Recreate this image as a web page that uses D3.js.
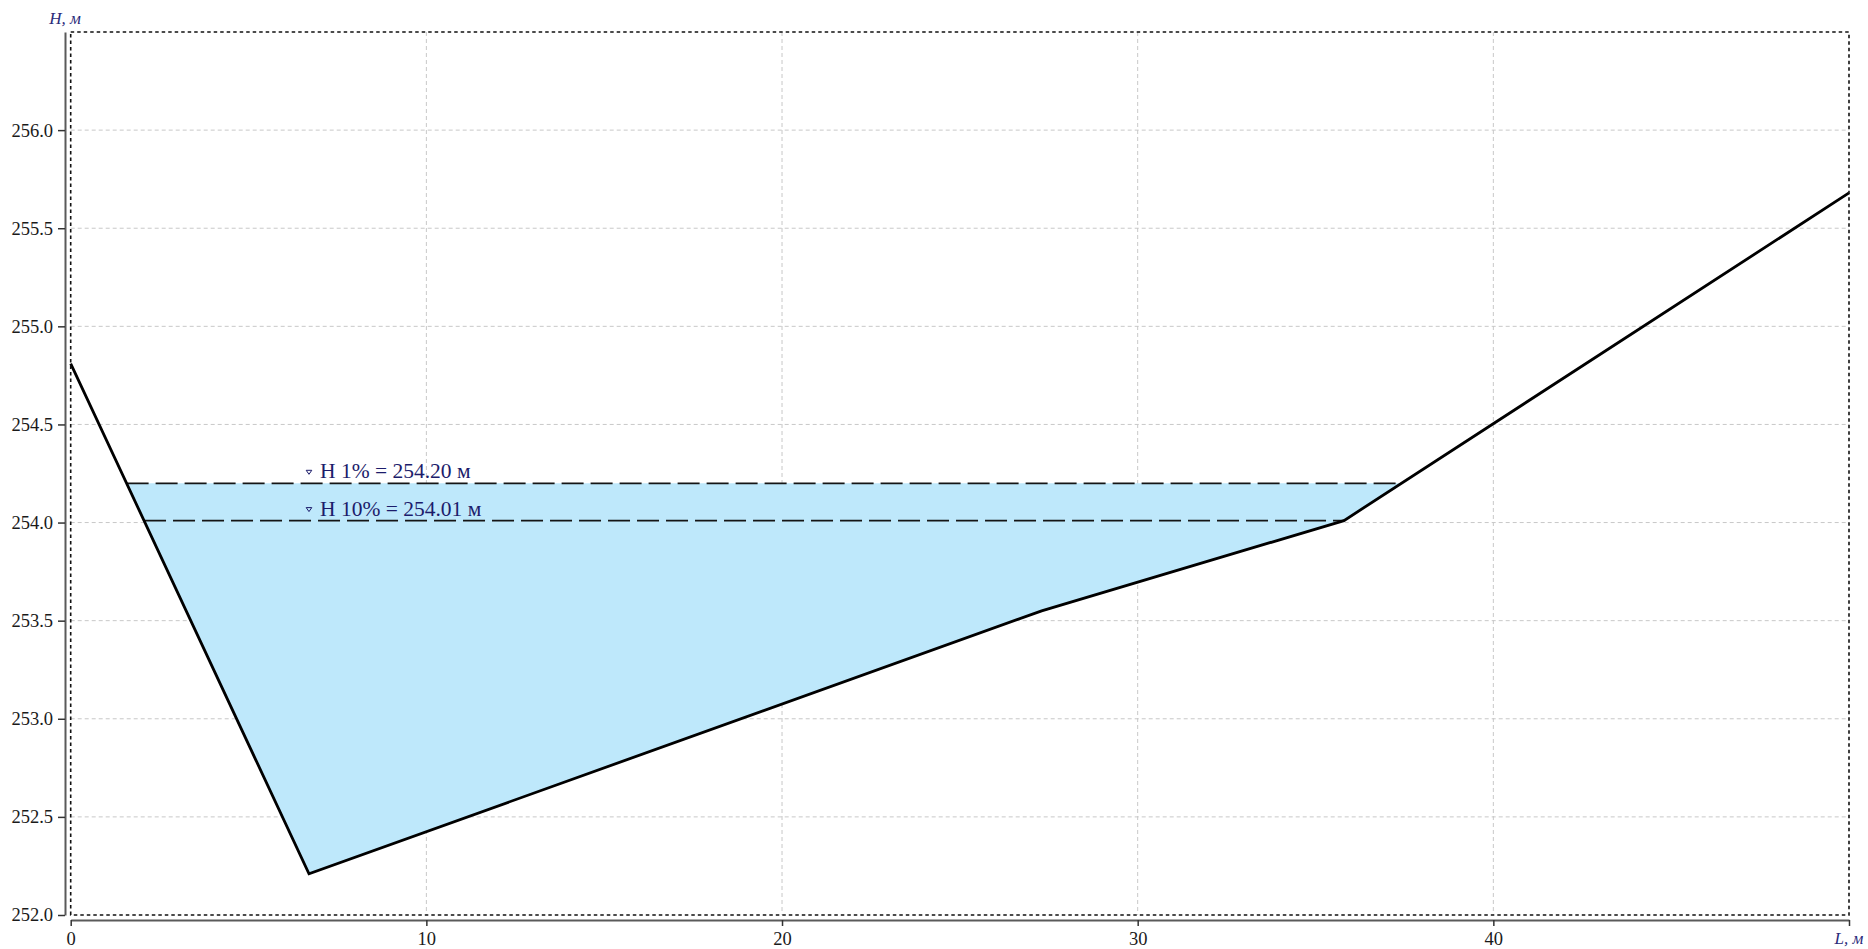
<!DOCTYPE html>
<html><head><meta charset="utf-8">
<script src="https://cdn.jsdelivr.net/npm/d3@7"></script>
<style>html,body{margin:0;padding:0;background:#fff;}svg{display:block;}</style>
</head><body>
<svg id="chart" width="1868" height="949"></svg>
<script>
// ---- data ----
const profileL = [0, 6.7, 27.3, 35.8, 50];
const profileH = [254.81, 252.21, 253.55, 254.01, 255.68];
const waterLevels = [254.20, 254.01];
const waterLabels = ["H 1% = 254.20 м", "H 10% = 254.01 м"];
const xTicks = [0, 10, 20, 30, 40, 50];
const yTicks = [252.0, 252.5, 253.0, 253.5, 254.0, 254.5, 255.0, 255.5, 256.0];
const xTitle = "L, м";
const yTitle = "H, м";

(function () {
const pL = 70.7, pR = 1849, pT = 32, pB = 915;
const x = d3.scaleLinear().domain([0, 50]).range([pL, pR]);
const y = d3.scaleLinear().domain([252, 256.5]).range([pB, pT]);
const svg = d3.select("#chart");
const serif = "'Liberation Serif','Times New Roman',serif";
const pts = profileL.map((l, i) => [l, profileH[i]]);

// gridlines
const grid = svg.append("g");
grid.selectAll("line.v").data(xTicks.filter(t => t > 0 && t < 50)).join("line").attr("class", "v")
  .attr("x1", d => x(d)).attr("x2", d => x(d)).attr("y1", pT).attr("y2", pB)
  .attr("stroke", "#c8c8c8").attr("stroke-width", 1).attr("stroke-dasharray", "4,3");
grid.selectAll("line.h").data(yTicks.filter(t => t > 252)).join("line").attr("class", "h")
  .attr("x1", pL).attr("x2", pR).attr("y1", d => y(d)).attr("y2", d => y(d))
  .attr("stroke", "#c8c8c8").attr("stroke-width", 1).attr("stroke-dasharray", "4,3");

// intersections of a level with the profile
function crossings(level) {
  const xs = [];
  for (let i = 0; i < pts.length - 1; i++) {
    const [l0, h0] = pts[i], [l1, h1] = pts[i + 1];
    if ((h0 - level) * (h1 - level) <= 0 && h0 !== h1) {
      const t = (level - h0) / (h1 - h0);
      if (t >= 0 && t <= 1) xs.push(l0 + t * (l1 - l0));
    }
  }
  return [d3.min(xs), d3.max(xs)];
}

// water fill (highest level)
const lvTop = d3.max(waterLevels);
const [a1, b1] = crossings(lvTop);
const poly = [[a1, lvTop]].concat(pts.filter(p => p[0] > a1 && p[0] < b1)).concat([[b1, lvTop]]);
svg.append("path")
  .attr("d", d3.line().x(d => x(d[0])).y(d => y(d[1]))(poly) + "Z")
  .attr("fill", "#bee8fb").attr("stroke", "none");

// water lines and labels
const deepest = pts.reduce((m, p) => p[1] < m[1] ? p : m, pts[0]);
waterLevels.forEach((lv, i) => {
  const [a, b] = crossings(lv);
  svg.append("line")
    .attr("x1", x(a)).attr("x2", x(b)).attr("y1", y(lv)).attr("y2", y(lv))
    .attr("stroke", "#151515").attr("stroke-width", 1.8).attr("stroke-dasharray", "22,7");
  const bx = x(deepest[0]), by = y(lv) - 5;
  svg.append("path")
    .attr("d", `M${bx - 2.8},${by - 8} L${bx + 2.8},${by - 8} L${bx},${by - 4} Z`)
    .attr("fill", "none").attr("stroke", "#1c1c6b").attr("stroke-width", 1);
  svg.append("text").attr("x", bx + 11).attr("y", by)
    .attr("font-family", serif).attr("font-size", 21.5).attr("fill", "#1c1c6b")
    .text(waterLabels[i]);
});

// ground profile
svg.append("path")
  .attr("d", d3.line().x(d => x(d[0])).y(d => y(d[1]))(pts))
  .attr("fill", "none").attr("stroke", "#000").attr("stroke-width", 2.8)
  .attr("stroke-linejoin", "miter");

// plot border (dotted)
svg.append("rect").attr("x", pL).attr("y", pT).attr("width", pR - pL).attr("height", pB - pT)
  .attr("fill", "none").attr("stroke", "#111").attr("stroke-width", 1.6).attr("stroke-dasharray", "3.5,3");

// y axis
const yAxis = svg.append("g").attr("transform", "translate(65,0)")
  .call(d3.axisLeft(y).tickValues(yTicks).tickFormat(d3.format(".1f")).tickSize(7).tickSizeOuter(0).tickPadding(5));
// x axis
const xAxis = svg.append("g").attr("transform", "translate(0,920)")
  .call(d3.axisBottom(x).tickValues(xTicks).tickFormat(d => d === 50 ? "" : d).tickSize(6).tickSizeOuter(0).tickPadding(6));
[yAxis, xAxis].forEach(g => {
  g.select(".domain").attr("stroke", "#5a5a5a").attr("stroke-width", 2);
  g.selectAll(".tick line").attr("stroke", "#333").attr("stroke-width", 1.5);
  g.selectAll(".tick text").attr("font-family", serif).attr("font-size", 18.5).attr("fill", "#1a1a1a");
});

// axis titles
svg.append("text").attr("x", 65).attr("y", 24).attr("text-anchor", "middle")
  .attr("font-family", serif).attr("font-style", "italic").attr("font-size", 17).attr("fill", "#2b2b7a")
  .text(yTitle);
svg.append("text").attr("x", x(50)).attr("y", 944).attr("text-anchor", "middle")
  .attr("font-family", serif).attr("font-style", "italic").attr("font-size", 17).attr("fill", "#2b2b7a")
  .text(xTitle);
})();
</script>
</body></html>
